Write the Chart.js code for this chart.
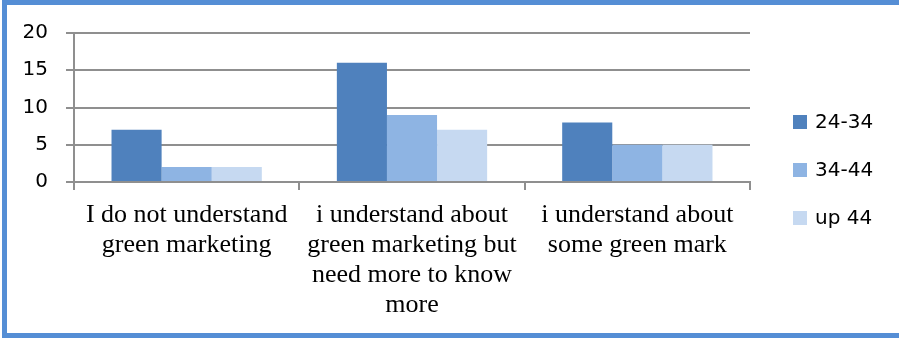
<!DOCTYPE html>
<html>
<head>
<meta charset="utf-8">
<script src="https://cdn.jsdelivr.net/npm/chart.js@4"></script>
<style>
  html, body { margin: 0; padding: 0; background: #ffffff; overflow: hidden; }
  #wrap { position: relative; width: 899px; height: 338px; overflow: hidden; }
  #c { position: absolute; left: 0; top: 0; }
  #frame { position: absolute; left: 2px; top: 0; width: 897px; height: 338px; box-sizing: border-box;
           border-left: 5px solid #558ED5; border-top: 5px solid #558ED5; border-bottom: 5px solid #558ED5; border-right: 0; pointer-events: none; }
</style>
</head>
<body>
<div id="wrap">
  <canvas id="c" width="899" height="338"></canvas>
  <div id="frame"></div>
</div>
<script>
const categories = [
  ["I do not understand", "green marketing"],
  ["i understand about", "green marketing but", "need more to know", "more"],
  ["i understand about", "some green mark"]
];
const seriesNames = ["24-34", "34-44", "up 44"];
const series2434 = [7, 16, 8];
const series3444 = [2, 9, 5];
const seriesUp44 = [2, 7, 5];
const yTicks = [0, 5, 10, 15, 20];

const colors = ["#4F81BD", "#8EB4E3", "#C6D9F1"];
const values = [series2434, series3444, seriesUp44];

const legendPlugin = {
  id: 'customLegend',
  afterDraw(chart) {
    const ctx = chart.ctx;
    ctx.save();
    ctx.font = '20px "DejaVu Sans"';
    ctx.textBaseline = 'middle';
    ctx.textAlign = 'left';
    chart.data.datasets.forEach((ds, i) => {
      const cy = 170 + (i - 1) * 48;
      ctx.fillStyle = ds.backgroundColor;
      ctx.fillRect(793, cy - 7, 14, 14);
      ctx.fillStyle = '#000000';
      ctx.fillText(ds.label, 815, cy + 1);
    });
    ctx.restore();
  }
};

new Chart(document.getElementById('c'), {
  type: 'bar',
  data: {
    labels: categories,
    datasets: seriesNames.map((n, i) => ({
      label: n,
      data: values[i],
      backgroundColor: colors[i],
      borderWidth: 0,
      categoryPercentage: 0.667,
      barPercentage: 1.0
    }))
  },
  options: {
    responsive: false,
    animation: false,
    layout: { padding: { left: 0, right: 149, top: 33, bottom: 0 } },
    plugins: { legend: { display: false }, tooltip: { enabled: false } },
    scales: {
      x: {
        grid: { display: true, drawOnChartArea: false, drawTicks: true, tickLength: 8, color: '#8f8f8f', lineWidth: 2, offset: true },
        border: { display: true, color: '#8f8f8f', width: 2 },
        ticks: { color: '#000000', font: { family: '"Liberation Serif"', size: 26, lineHeight: 1.16 }, padding: 10, maxRotation: 0, autoSkip: false },
        afterFit: (s) => { s.height = 156; }
      },
      y: {
        min: 0, max: 20,
        afterBuildTicks: (s) => { s.ticks = yTicks.map(v => ({ value: v })); },
        grid: { color: '#8f8f8f', lineWidth: 2, tickLength: 8, drawTicks: true },
        border: { display: true, color: '#8f8f8f', width: 2 },
        ticks: { color: '#000000', font: { family: '"DejaVu Sans"', size: 20 }, padding: 18 },
        afterFit: (s) => { s.width = 74; }
      }
    }
  },
  plugins: [legendPlugin]
});
</script>
</body>
</html>
